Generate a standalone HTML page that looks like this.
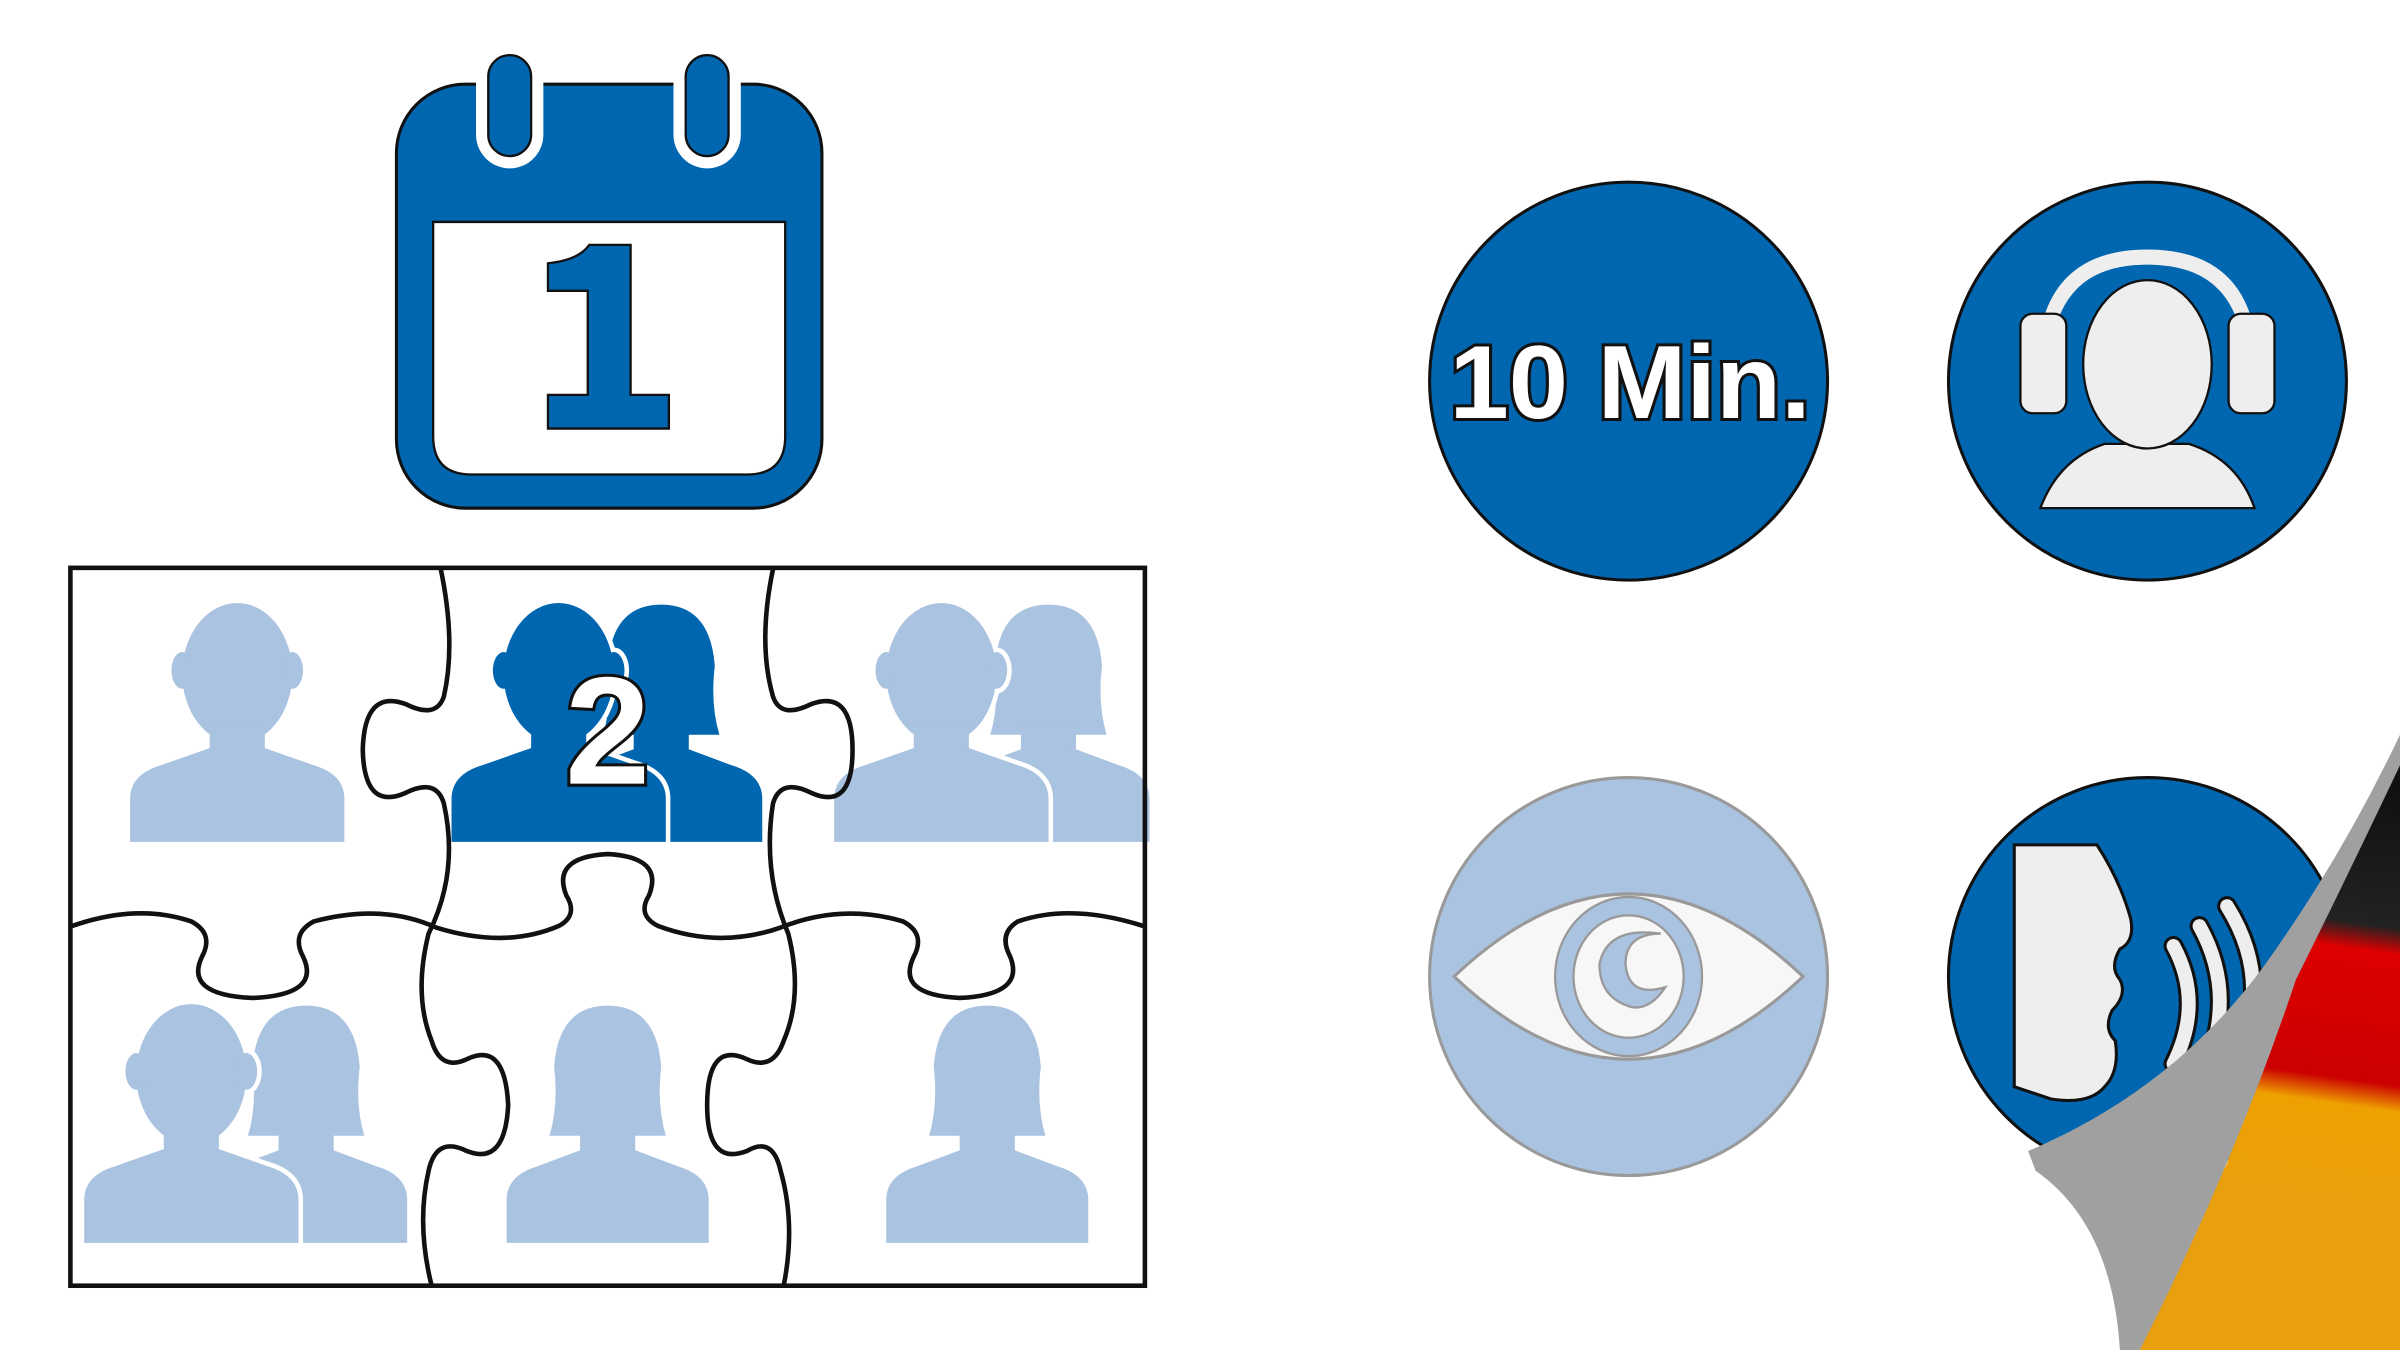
<!DOCTYPE html>
<html><head><meta charset="utf-8"><style>html,body{margin:0;padding:0;background:#fff}svg{display:block}</style></head>
<body>
<svg width="2400" height="1350" viewBox="0 0 1568 882" xmlns="http://www.w3.org/2000/svg">
<defs>
<g id="man"><ellipse cx="0" cy="-110" rx="36" ry="46"/><ellipse cx="-36" cy="-112" rx="7" ry="12"/><ellipse cx="36" cy="-112" rx="7" ry="12"/><rect x="-18" y="-75" width="36" height="25"/><path d="M-70 0 L-70 -28 Q-70 -44 -50 -50 L-16 -62 L16 -62 L50 -50 Q70 -44 70 -28 L70 0 Z"/></g>
<g id="woman"><path d="M-38 -70 Q-32 -90 -35 -115 Q-32 -155 0 -155 Q32 -155 35 -115 Q32 -90 38 -70 Z"/><rect x="-18" y="-75" width="36" height="25"/><path d="M-66 0 L-66 -28 Q-66 -44 -46 -50 L-14 -62 L14 -62 L46 -50 Q66 -44 66 -28 L66 0 Z"/></g>
<linearGradient id="flag" gradientUnits="userSpaceOnUse" x1="1560" y1="520" x2="1520" y2="800">
<stop offset="0" stop-color="#111"/><stop offset="0.3" stop-color="#222"/><stop offset="0.36" stop-color="#d00"/><stop offset="0.66" stop-color="#c00"/><stop offset="0.72" stop-color="#eea000"/><stop offset="1" stop-color="#e8a010"/>
</linearGradient>
</defs>
<rect width="1568" height="882" fill="#fff"/>

<!-- Calendar -->
<rect x="259" y="55" width="278" height="277" rx="45" fill="#0066b0" stroke="#111" stroke-width="2"/>
<path d="M283 145 H513 V285 Q513 310 488 310 H308 Q283 310 283 285 Z" fill="#fff" stroke="#111" stroke-width="1.5"/>
<rect x="311" y="30" width="44" height="80" rx="22" fill="#fff"/>
<rect x="440" y="30" width="44" height="80" rx="22" fill="#fff"/>
<rect x="319" y="36" width="28" height="66" rx="14" fill="#0066b0" stroke="#111" stroke-width="1.5"/>
<rect x="448" y="36" width="28" height="66" rx="14" fill="#0066b0" stroke="#111" stroke-width="1.5"/>
<path d="M358 172 Q378 170 385 160 H412 V258 H437 V280 H358 V258 H384 V190 H358 Z" fill="#0066b0" stroke="#111" stroke-width="1.5"/>

<!-- Puzzle people -->
<g fill="#aac3e0">
<use href="#man" x="155" y="550"/>
<use href="#woman" x="685" y="550"/>
<use href="#man" x="615" y="550" stroke="#fff" stroke-width="6"/><use href="#man" x="615" y="550"/>
<use href="#woman" x="200" y="812"/>
<use href="#man" x="125" y="812" stroke="#fff" stroke-width="6"/><use href="#man" x="125" y="812"/>
<use href="#woman" x="397" y="812"/>
<use href="#woman" x="645" y="812"/>
</g>
<g fill="#0066b0">
<use href="#woman" x="432" y="550"/>
<use href="#man" x="365" y="550" stroke="#fff" stroke-width="6"/><use href="#man" x="365" y="550"/>
</g>
<text x="397" y="512" text-anchor="middle" font-family="Liberation Sans, sans-serif" font-weight="bold" font-size="100" fill="#fff" stroke="#111" stroke-width="4" paint-order="stroke">2</text>

<!-- Puzzle lines -->
<g fill="none" stroke="#111" stroke-width="3">
<path d="M288 372 Q298 420 290 455 Q285 470 265 460 Q238 450 237 490 Q238 530 265 518 Q285 508 290 525 Q300 570 280 610 Q270 650 282 680 Q288 700 305 692 Q330 680 332 722 Q330 762 305 752 Q285 742 280 765 Q272 800 282 840"/>
<path d="M505 372 Q495 420 505 455 Q510 470 530 460 Q557 450 557 490 Q557 530 530 518 Q510 508 505 525 Q498 570 515 610 Q525 650 512 680 Q505 700 488 692 Q462 680 462 722 Q462 762 488 752 Q505 742 510 765 Q520 800 512 840"/>
<path d="M47 605 Q90 590 125 602 Q140 610 132 625 Q120 650 165 652 Q210 650 198 625 Q190 610 205 602 Q250 590 285 606 Q330 620 365 605 Q378 598 370 585 Q360 560 397 558 Q434 560 424 585 Q416 598 430 605 Q470 620 510 606 Q550 590 590 602 Q605 610 597 625 Q585 650 627 652 Q670 650 660 625 Q652 610 665 602 Q700 590 747 605"/>
</g>
<rect x="46" y="371" width="702" height="469" fill="none" stroke="#111" stroke-width="3"/>

<!-- 10 Min -->
<circle cx="1064" cy="249" r="130" fill="#0066b0" stroke="#111" stroke-width="2"/>
<text x="1065" y="273" text-anchor="middle" font-family="Liberation Sans, sans-serif" font-weight="bold" font-size="68" fill="#fff" stroke="#111" stroke-width="4" paint-order="stroke" textLength="236" lengthAdjust="spacingAndGlyphs">10 Min.</text>

<!-- Headset -->
<circle cx="1403" cy="249" r="130" fill="#0066b0" stroke="#111" stroke-width="2"/>
<g stroke="#111" stroke-width="1.5">
<path d="M1336 240 Q1336 168 1403 168 Q1470 168 1470 240" fill="none" stroke="#eee" stroke-width="10"/>
<path d="M1343 240 Q1343 176 1403 176 Q1463 176 1463 240" fill="none" stroke="#0066b0" stroke-width="6"/>
<path d="M1333 332 Q1345 300 1375 290 L1430 290 Q1462 300 1473 332 Z" fill="#eee"/>
<ellipse cx="1403" cy="238" rx="42" ry="55" fill="#eee"/>
<rect x="1320" y="205" width="30" height="65" rx="8" fill="#eee"/>
<rect x="1456" y="205" width="30" height="65" rx="8" fill="#eee"/>
</g>

<!-- Eye -->
<circle cx="1064" cy="638" r="130" fill="#aac3e0" stroke="#999" stroke-width="2"/>
<path d="M950 638 Q1064 530 1178 638 Q1064 746 950 638 Z" fill="#f7f7f7" stroke="#999" stroke-width="2"/>
<ellipse cx="1064" cy="638" rx="48" ry="52" fill="#aac3e0" stroke="#999" stroke-width="1.5"/>
<ellipse cx="1064" cy="638" rx="36" ry="40" fill="#f7f7f7" stroke="#999" stroke-width="1.5"/>
<path d="M1085 610 Q1062 610 1062 630 Q1064 652 1088 645 Q1078 660 1066 658 Q1045 652 1045 630 Q1050 605 1085 610 Z" fill="#aac3e0" stroke="#999" stroke-width="1.5"/>

<!-- Speaker -->
<circle cx="1403" cy="638" r="130" fill="#0066b0" stroke="#111" stroke-width="2"/>
<path d="M1316 552 H1370 Q1385 575 1392 600 Q1395 615 1385 620 Q1378 632 1385 640 Q1390 650 1380 660 Q1374 672 1382 680 Q1385 700 1375 710 Q1365 722 1340 718 L1316 710 Z" fill="#eee" stroke="#111" stroke-width="2"/>
<g fill="none" stroke="#111" stroke-width="13" stroke-linecap="round"><path d="M1420 618 Q1440 655 1420 695"/><path d="M1437 605 Q1462 650 1440 700"/><path d="M1455 592 Q1485 640 1462 690"/></g>
<g fill="none" stroke="#eee" stroke-width="9" stroke-linecap="round"><path d="M1420 618 Q1440 655 1420 695"/><path d="M1437 605 Q1462 650 1440 700"/><path d="M1455 592 Q1485 640 1462 690"/></g>

<!-- Flag peel -->
<path d="M1568 490 Q1500 620 1455 760 Q1420 830 1398 882 L1568 882 Z" fill="url(#flag)"/>
<path d="M1325 752 Q1420 712 1480 630 Q1530 560 1568 480 L1568 500 Q1530 580 1500 640 Q1460 760 1398 882 L1385 882 Q1380 800 1330 765 Z" fill="#a0a0a0"/>
</svg>
</body></html>
